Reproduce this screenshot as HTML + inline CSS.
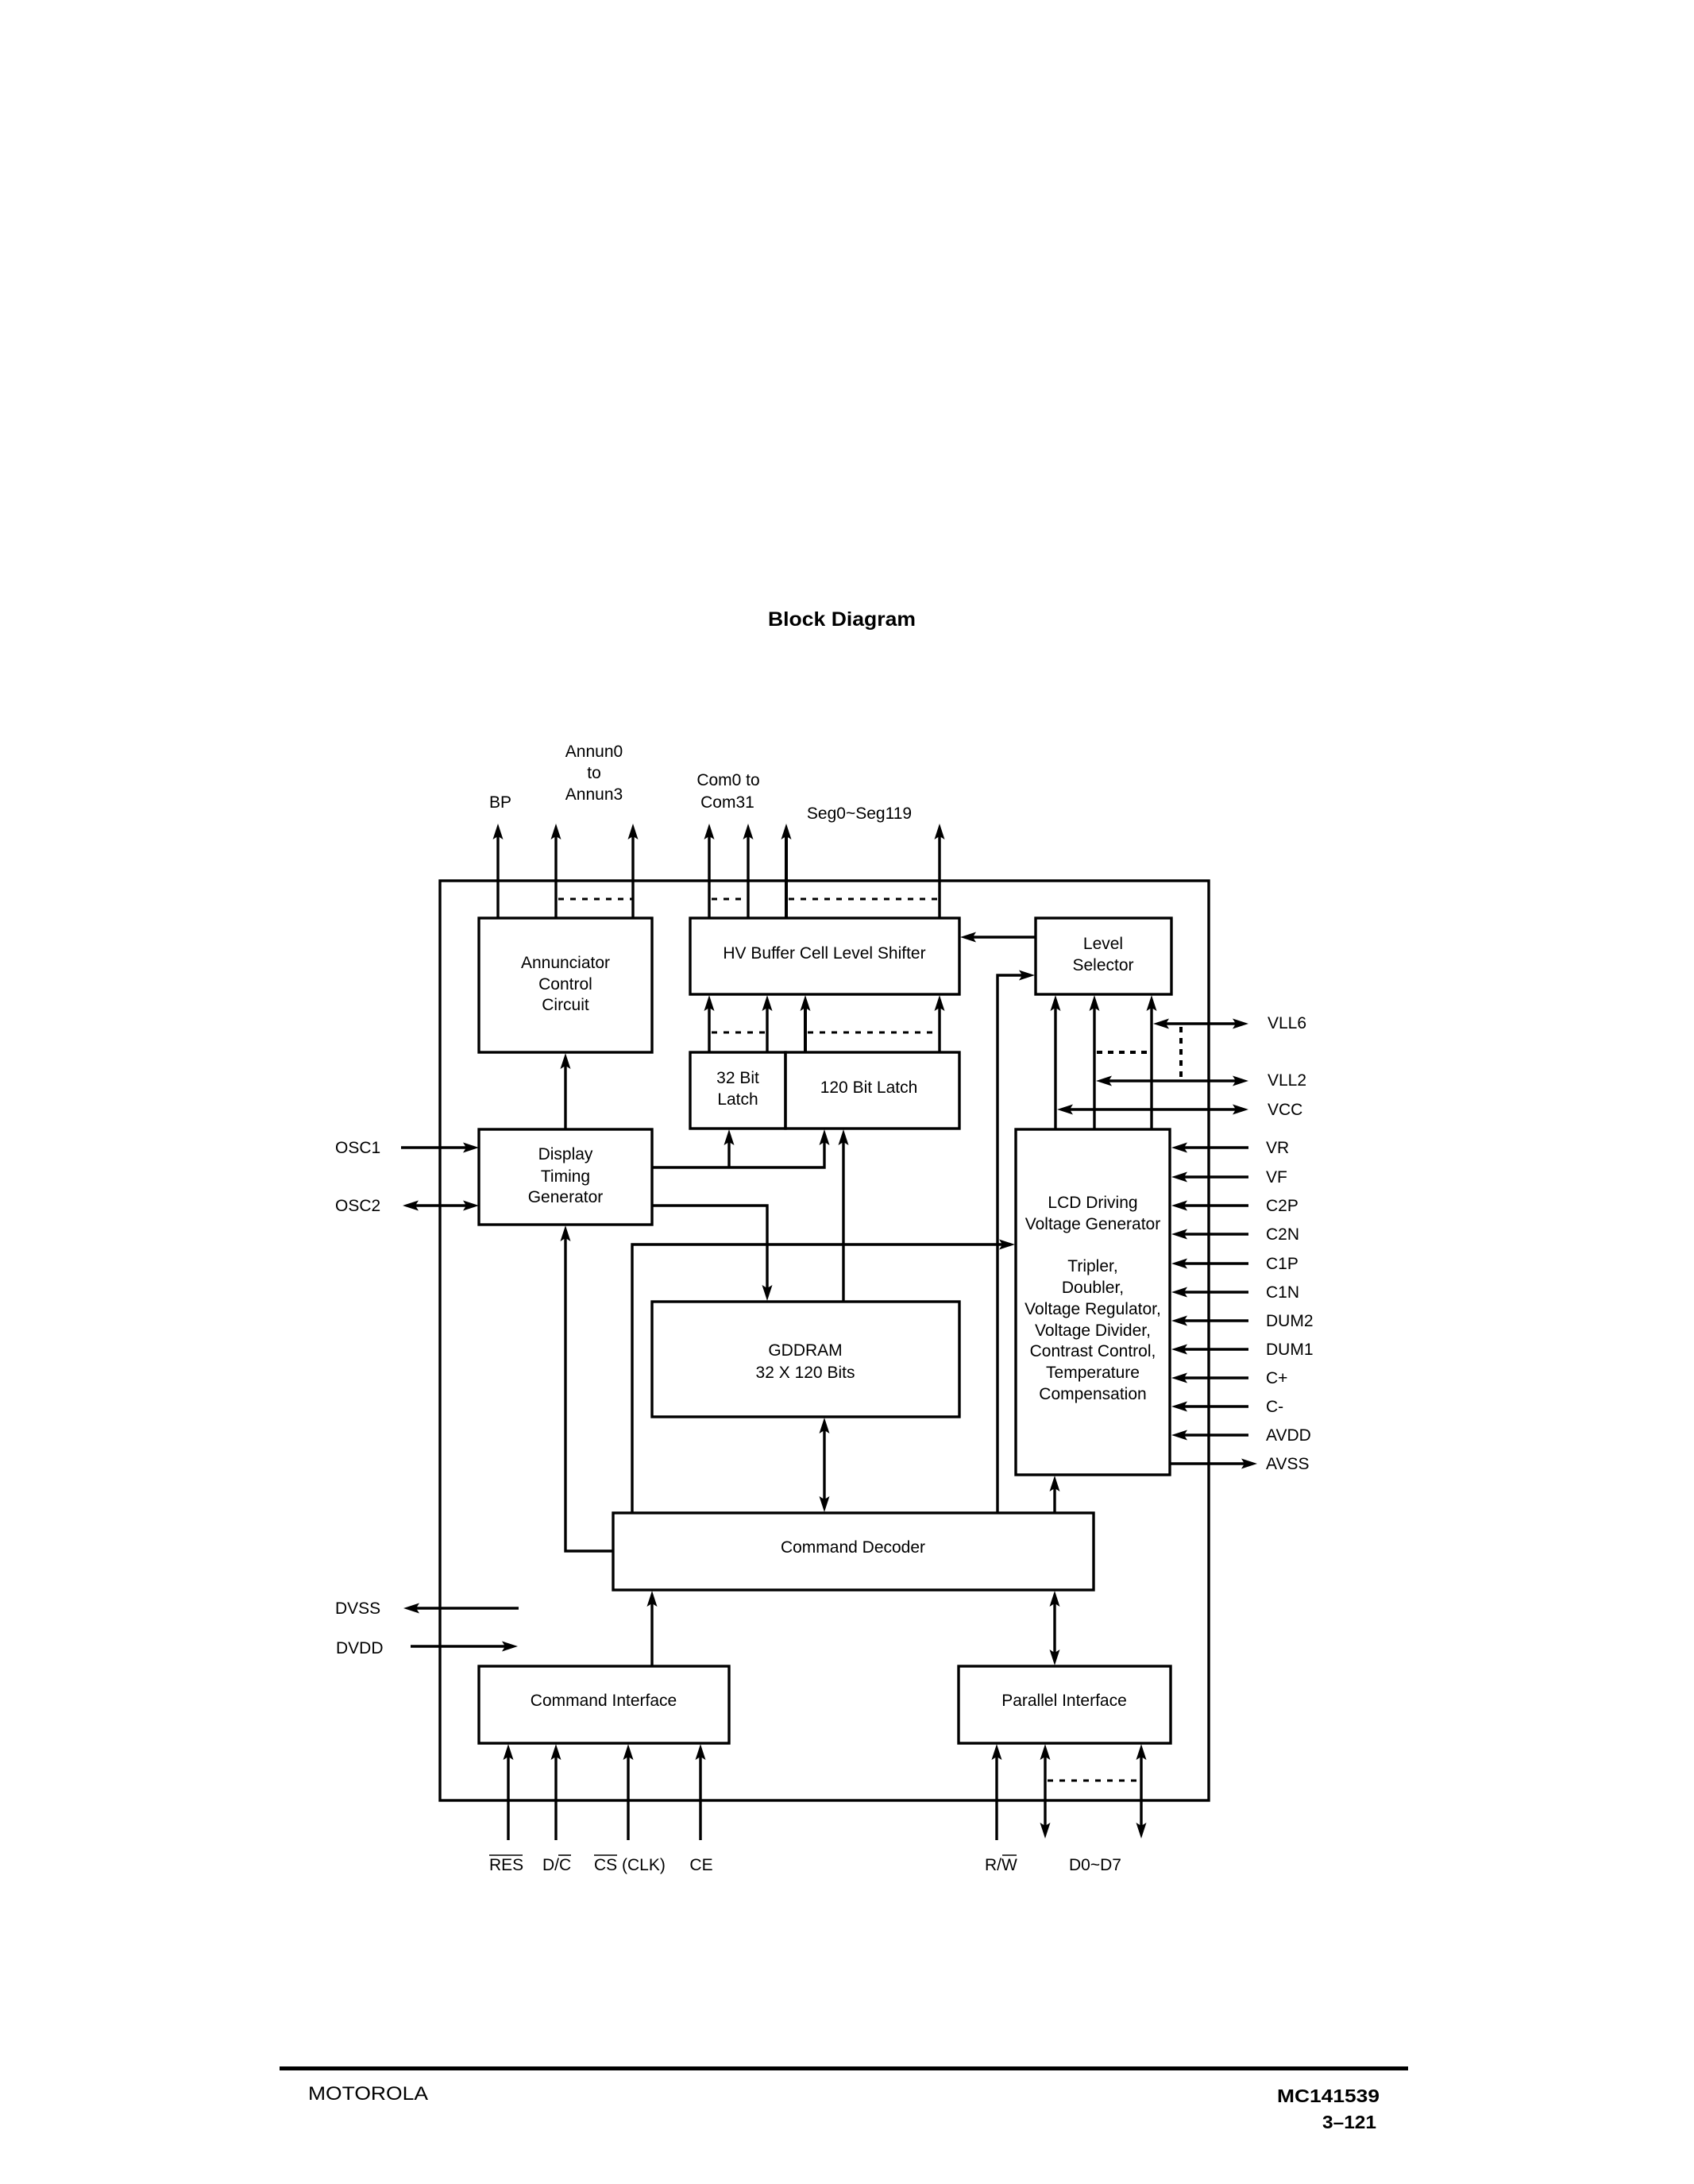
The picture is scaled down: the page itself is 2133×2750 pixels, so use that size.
<!DOCTYPE html>
<html>
<head>
<meta charset="utf-8">
<style>
  html,body{margin:0;padding:0;background:#fff;}
  svg{display:block;}
  text{font-family:"Liberation Sans",Arial,sans-serif;font-size:21px;fill:#000;}
  .m{text-anchor:middle;}
  .b{font-weight:bold;}
</style>
</head>
<body>
<svg width="2133" height="2750" viewBox="0 0 2133 2750" xmlns="http://www.w3.org/2000/svg">
<defs>
  <path id="au" d="M0,0 L-6.5,20 L0,16 L6.5,20 Z" fill="#000"/>
  <path id="ad" d="M0,0 L-6.5,-20 L0,-16 L6.5,-20 Z" fill="#000"/>
  <path id="ar" d="M0,0 L-20,-6.5 L-16,0 L-20,6.5 Z" fill="#000"/>
  <path id="al" d="M0,0 L20,-6.5 L16,0 L20,6.5 Z" fill="#000"/>
</defs>
<rect width="2133" height="2750" fill="#fff"/>

<!-- Title -->
<text x="967" y="788" class="b" style="font-size:25px" textLength="186" lengthAdjust="spacingAndGlyphs">Block Diagram</text>

<g fill="none" stroke="#000" stroke-width="3.4">
  <!-- main box -->
  <rect x="554" y="1109" width="968" height="1158"/>
  <!-- blocks -->
  <rect x="603" y="1156" width="218" height="169"/>
  <rect x="869" y="1156" width="339" height="96"/>
  <rect x="1304" y="1156" width="171" height="96"/>
  <rect x="869" y="1325" width="120" height="96"/>
  <rect x="989" y="1325" width="219" height="96"/>
  <rect x="603" y="1422" width="218" height="120"/>
  <rect x="821" y="1639" width="387" height="145"/>
  <rect x="1279" y="1422" width="194" height="435"/>
  <rect x="772" y="1905" width="605" height="97"/>
  <rect x="603" y="2098" width="315" height="97"/>
  <rect x="1207" y="2098" width="267" height="97"/>

  <!-- top outputs -->
  <line x1="627" y1="1156" x2="627" y2="1052"/>
  <line x1="700" y1="1156" x2="700" y2="1052"/>
  <line x1="797" y1="1156" x2="797" y2="1052"/>
  <line x1="893" y1="1156" x2="893" y2="1052"/>
  <line x1="942" y1="1156" x2="942" y2="1052"/>
  <line x1="990" y1="1156" x2="990" y2="1052" stroke-width="4"/>
  <line x1="1183" y1="1156" x2="1183" y2="1052"/>

  <!-- level selector to HV -->
  <line x1="1304" y1="1180" x2="1222" y2="1180"/>
  <polyline points="1256,1905 1256,1228 1290,1228"/>

  <!-- latches to HV -->
  <line x1="893" y1="1325" x2="893" y2="1267"/>
  <line x1="966" y1="1325" x2="966" y2="1267"/>
  <line x1="1014" y1="1325" x2="1014" y2="1267" stroke-width="4"/>
  <line x1="1183" y1="1325" x2="1183" y2="1267"/>

  <!-- DTG to annunciator -->
  <line x1="712" y1="1422" x2="712" y2="1340"/>
  <!-- OSC -->
  <line x1="505" y1="1445" x2="590" y2="1445"/>
  <line x1="520" y1="1518" x2="590" y2="1518"/>
  <!-- DTG outputs -->
  <polyline points="821,1470 1038,1470 1038,1436"/>
  <line x1="918" y1="1470" x2="918" y2="1436"/>
  <polyline points="821,1518 966,1518 966,1624"/>
  <line x1="1062" y1="1639" x2="1062" y2="1436"/>
  <!-- GDDRAM <-> CD -->
  <line x1="1038" y1="1798" x2="1038" y2="1891"/>
  <!-- CD to LCD -->
  <polyline points="796,1905 796,1567 1265,1567"/>
  <!-- LCD to level selector -->
  <line x1="1329" y1="1422" x2="1329" y2="1267"/>
  <line x1="1378" y1="1422" x2="1378" y2="1267"/>
  <line x1="1450" y1="1422" x2="1450" y2="1267"/>
  <!-- VLL6 VLL2 VCC -->
  <line x1="1466" y1="1289" x2="1558" y2="1289"/>
  <line x1="1394" y1="1361" x2="1558" y2="1361"/>
  <line x1="1345" y1="1397" x2="1558" y2="1397"/>
  <!-- right inputs -->
  <line x1="1572" y1="1445" x2="1489" y2="1445"/>
  <line x1="1572" y1="1482" x2="1489" y2="1482"/>
  <line x1="1572" y1="1518" x2="1489" y2="1518"/>
  <line x1="1572" y1="1554" x2="1489" y2="1554"/>
  <line x1="1572" y1="1591" x2="1489" y2="1591"/>
  <line x1="1572" y1="1627" x2="1489" y2="1627"/>
  <line x1="1572" y1="1663" x2="1489" y2="1663"/>
  <line x1="1572" y1="1699" x2="1489" y2="1699"/>
  <line x1="1572" y1="1735" x2="1489" y2="1735"/>
  <line x1="1572" y1="1771" x2="1489" y2="1771"/>
  <line x1="1572" y1="1807" x2="1489" y2="1807"/>
  <line x1="1473" y1="1843" x2="1569" y2="1843"/>
  <!-- CD to LCD bottom -->
  <line x1="1328" y1="1905" x2="1328" y2="1872"/>
  <!-- CD to DTG -->
  <polyline points="772,1953 712,1953 712,1557"/>
  <!-- CI to CD -->
  <line x1="821" y1="2098" x2="821" y2="2017"/>
  <!-- CD <-> PI -->
  <line x1="1328" y1="2016" x2="1328" y2="2084"/>
  <!-- bottom inputs -->
  <line x1="640" y1="2317" x2="640" y2="2210"/>
  <line x1="700" y1="2317" x2="700" y2="2210"/>
  <line x1="791" y1="2317" x2="791" y2="2210"/>
  <line x1="882" y1="2317" x2="882" y2="2210"/>
  <line x1="1255" y1="2317" x2="1255" y2="2210"/>
  <line x1="1316" y1="2210" x2="1316" y2="2301"/>
  <line x1="1437" y1="2210" x2="1437" y2="2301"/>
  <!-- DVSS / DVDD -->
  <line x1="653" y1="2025" x2="522" y2="2025"/>
  <line x1="517" y1="2073" x2="638" y2="2073"/>
</g>

<!-- dashed lines -->
<g fill="none" stroke="#000" stroke-width="3" stroke-dasharray="7 8">
  <line x1="703" y1="1132" x2="797" y2="1132"/>
  <line x1="896" y1="1132" x2="942" y2="1132"/>
  <line x1="993" y1="1132" x2="1183" y2="1132"/>
  <line x1="896" y1="1300" x2="966" y2="1300"/>
  <line x1="1017" y1="1300" x2="1183" y2="1300"/>
  <line x1="1319" y1="2242" x2="1437" y2="2242"/>
</g>
<g fill="none" stroke="#000" stroke-width="4" stroke-dasharray="7 7">
  <line x1="1487" y1="1293" x2="1487" y2="1361"/>
  <line x1="1381" y1="1325" x2="1450" y2="1325"/>
</g>

<!-- arrowheads -->
<g>
  <use href="#au" x="627" y="1037"/>
  <use href="#au" x="700" y="1037"/>
  <use href="#au" x="797" y="1037"/>
  <use href="#au" x="893" y="1037"/>
  <use href="#au" x="942" y="1037"/>
  <use href="#au" x="990" y="1037"/>
  <use href="#au" x="1183" y="1037"/>

  <use href="#al" x="1209" y="1180"/>
  <use href="#ar" x="1303" y="1228"/>

  <use href="#au" x="893" y="1253"/>
  <use href="#au" x="966" y="1253"/>
  <use href="#au" x="1014" y="1253"/>
  <use href="#au" x="1183" y="1253"/>

  <use href="#au" x="712" y="1326"/>
  <use href="#ar" x="603" y="1445"/>
  <use href="#al" x="507" y="1518"/>
  <use href="#ar" x="603" y="1518"/>

  <use href="#au" x="1038" y="1422"/>
  <use href="#au" x="918" y="1422"/>
  <use href="#ad" x="966" y="1638"/>
  <use href="#au" x="1062" y="1422"/>

  <use href="#au" x="1038" y="1785"/>
  <use href="#ad" x="1038" y="1904"/>
  <use href="#ar" x="1278" y="1567"/>

  <use href="#au" x="1329" y="1253"/>
  <use href="#au" x="1378" y="1253"/>
  <use href="#au" x="1450" y="1253"/>

  <use href="#al" x="1452" y="1289"/>
  <use href="#ar" x="1572" y="1289"/>
  <use href="#al" x="1380" y="1361"/>
  <use href="#ar" x="1572" y="1361"/>
  <use href="#al" x="1331" y="1397"/>
  <use href="#ar" x="1572" y="1397"/>

  <use href="#al" x="1475" y="1445"/>
  <use href="#al" x="1475" y="1482"/>
  <use href="#al" x="1475" y="1518"/>
  <use href="#al" x="1475" y="1554"/>
  <use href="#al" x="1475" y="1591"/>
  <use href="#al" x="1475" y="1627"/>
  <use href="#al" x="1475" y="1663"/>
  <use href="#al" x="1475" y="1699"/>
  <use href="#al" x="1475" y="1735"/>
  <use href="#al" x="1475" y="1771"/>
  <use href="#al" x="1475" y="1807"/>
  <use href="#ar" x="1583" y="1843"/>

  <use href="#au" x="1328" y="1858"/>
  <use href="#au" x="712" y="1543"/>
  <use href="#au" x="821" y="2003"/>
  <use href="#au" x="1328" y="2003"/>
  <use href="#ad" x="1328" y="2097"/>

  <use href="#au" x="640" y="2196"/>
  <use href="#au" x="700" y="2196"/>
  <use href="#au" x="791" y="2196"/>
  <use href="#au" x="882" y="2196"/>
  <use href="#au" x="1255" y="2196"/>
  <use href="#au" x="1316" y="2196"/>
  <use href="#ad" x="1316" y="2315"/>
  <use href="#au" x="1437" y="2196"/>
  <use href="#ad" x="1437" y="2315"/>

  <use href="#al" x="508" y="2025"/>
  <use href="#ar" x="652" y="2073"/>
</g>

<!-- top labels -->
<text x="630" y="1017" class="m">BP</text>
<text x="748" y="953" class="m">Annun0</text>
<text x="748" y="980" class="m">to</text>
<text x="748" y="1007" class="m">Annun3</text>
<text x="917" y="989" class="m">Com0 to</text>
<text x="916" y="1017" class="m">Com31</text>
<text x="1082" y="1031" class="m">Seg0~Seg119</text>

<!-- block labels -->
<text x="712" y="1219" class="m">Annunciator</text>
<text x="712" y="1246" class="m">Control</text>
<text x="712" y="1272" class="m">Circuit</text>
<text x="1038" y="1207" class="m">HV Buffer Cell Level Shifter</text>
<text x="1389" y="1195" class="m">Level</text>
<text x="1389" y="1222" class="m">Selector</text>
<text x="929" y="1364" class="m">32 Bit</text>
<text x="929" y="1391" class="m">Latch</text>
<text x="1094" y="1376" class="m">120 Bit Latch</text>
<text x="712" y="1460" class="m">Display</text>
<text x="712" y="1488" class="m">Timing</text>
<text x="712" y="1514" class="m">Generator</text>
<text x="1014" y="1707" class="m">GDDRAM</text>
<text x="1014" y="1735" class="m">32 X 120 Bits</text>

<text x="1376" y="1521" class="m">LCD Driving</text>
<text x="1376" y="1548" class="m">Voltage Generator</text>
<text x="1376" y="1601" class="m">Tripler,</text>
<text x="1376" y="1628" class="m">Doubler,</text>
<text x="1376" y="1655" class="m">Voltage Regulator,</text>
<text x="1376" y="1682" class="m">Voltage Divider,</text>
<text x="1376" y="1708" class="m">Contrast Control,</text>
<text x="1376" y="1735" class="m">Temperature</text>
<text x="1376" y="1762" class="m">Compensation</text>

<text x="1074" y="1955" class="m">Command Decoder</text>
<text x="760" y="2148" class="m">Command Interface</text>
<text x="1340" y="2148" class="m">Parallel Interface</text>

<!-- left labels -->
<text x="422" y="1452">OSC1</text>
<text x="422" y="1525">OSC2</text>
<text x="422" y="2032">DVSS</text>
<text x="423" y="2082">DVDD</text>

<!-- right labels -->
<text x="1596" y="1295">VLL6</text>
<text x="1596" y="1367">VLL2</text>
<text x="1596" y="1404">VCC</text>
<text x="1594" y="1452">VR</text>
<text x="1594" y="1489">VF</text>
<text x="1594" y="1525">C2P</text>
<text x="1594" y="1561">C2N</text>
<text x="1594" y="1598">C1P</text>
<text x="1594" y="1634">C1N</text>
<text x="1594" y="1670">DUM2</text>
<text x="1594" y="1706">DUM1</text>
<text x="1594" y="1742">C+</text>
<text x="1594" y="1778">C-</text>
<text x="1594" y="1814">AVDD</text>
<text x="1594" y="1850">AVSS</text>

<!-- bottom labels -->
<text x="616" y="2355">RES</text>
<text x="683" y="2355">D/C</text>
<text x="748" y="2355">CS (CLK)</text>
<text x="883" y="2355" class="m">CE</text>
<text x="1240" y="2355">R/W</text>
<text x="1379" y="2355" class="m">D0~D7</text>
<g stroke="#000" stroke-width="1.6">
  <line x1="616" y1="2336" x2="658" y2="2336"/>
  <line x1="703" y1="2336" x2="719" y2="2336"/>
  <line x1="748" y1="2336" x2="777" y2="2336"/>
  <line x1="1262" y1="2336" x2="1280" y2="2336"/>
</g>

<!-- footer -->
<line x1="352" y1="2604.5" x2="1773" y2="2604.5" stroke="#000" stroke-width="5"/>
<text x="388" y="2644" style="font-size:24px" textLength="151" lengthAdjust="spacingAndGlyphs">MOTOROLA</text>
<text x="1608" y="2647" class="b" style="font-size:23px" textLength="129" lengthAdjust="spacingAndGlyphs">MC141539</text>
<text x="1665" y="2680" class="b" style="font-size:23px" textLength="68" lengthAdjust="spacingAndGlyphs">3–121</text>
</svg>
</body>
</html>
